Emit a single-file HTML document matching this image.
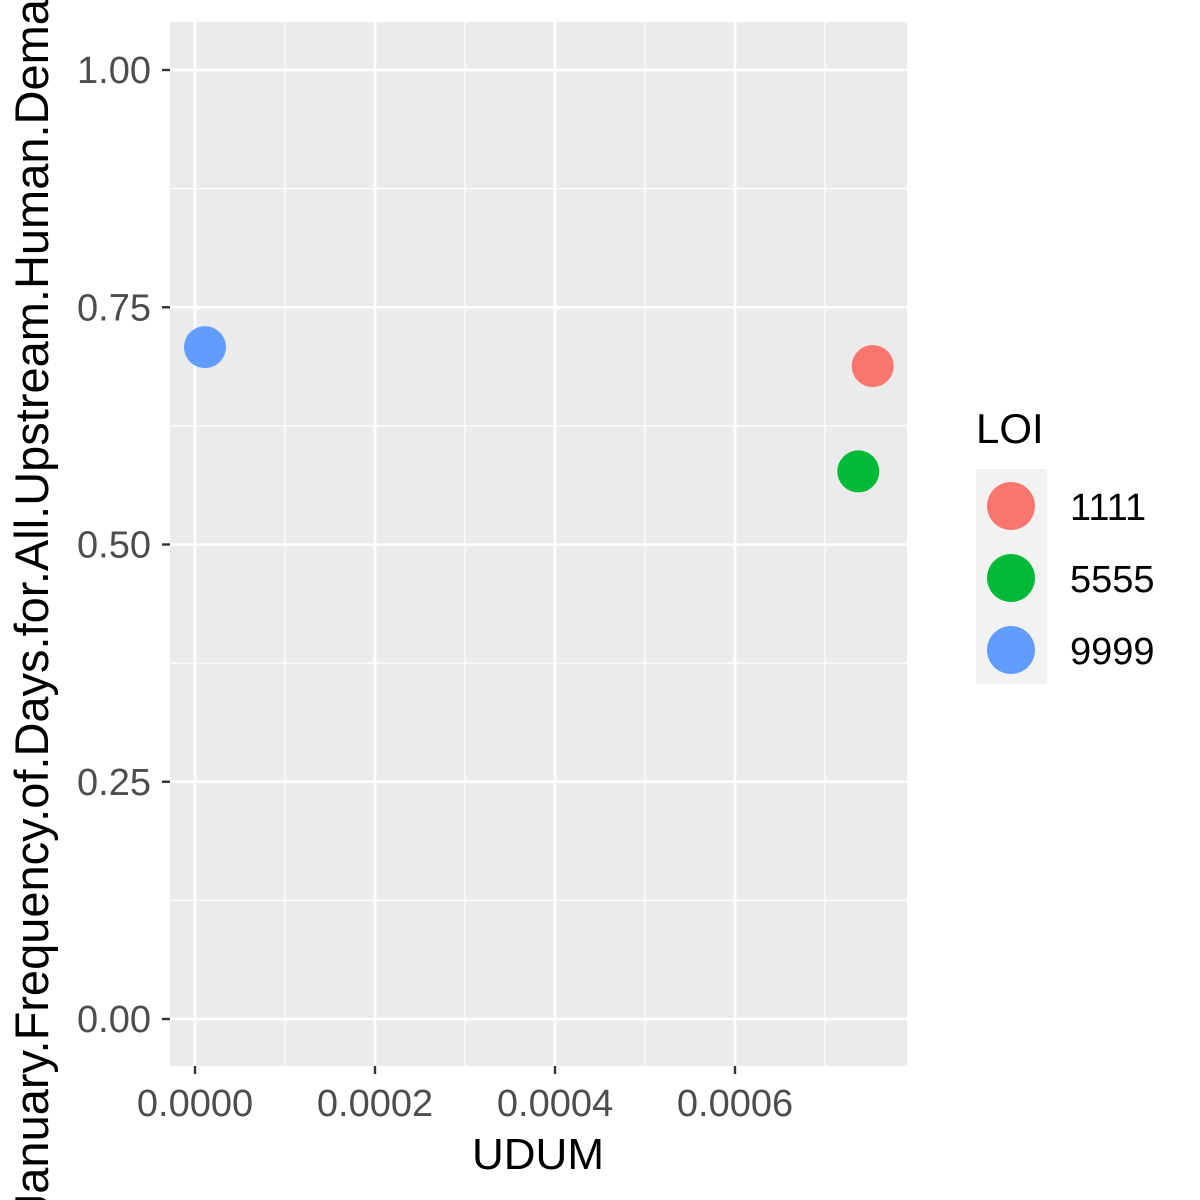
<!DOCTYPE html>
<html><head><meta charset="utf-8">
<style>
html,body{margin:0;padding:0;background:#fff;overflow:hidden;}
svg{display:block;font-family:"Liberation Sans",Arial,sans-serif;}
</style></head>
<body>
<svg id="chart" width="1200" height="1200" viewBox="0 0 1200 1200"></svg>
<script>
const categories = ["1111","5555","9999"];
const xValues = [0.000753, 0.000737, 0.0000111];
const yValues = [0.688, 0.577, 0.708];
const colors = ["#F8766D","#00BA38","#619CFF"];
const xTicks = [0, 0.0002, 0.0004, 0.0006];
const xTickLabels = ["0.0000","0.0002","0.0004","0.0006"];
const yTicks = [0, 0.25, 0.5, 0.75, 1.0];
const yTickLabels = ["0.00","0.25","0.50","0.75","1.00"];

const NS="http://www.w3.org/2000/svg";
const svg=document.getElementById('chart');
const P={l:170,r:907,t:22,b:1066};
function sx(v){return 195+v/0.0002*180;}
function sy(v){return 1019-v*949;}
function mk(tag,attrs,parent){const e=document.createElementNS(NS,tag);for(const k in attrs)e.setAttribute(k,attrs[k]);(parent||svg).appendChild(e);return e;}

const panel=mk('rect',{x:P.l,y:P.t,width:P.r-P.l,height:P.b-P.t,fill:'#EBEBEB'});



for(let i=0;i<xTicks.length;i++){
  const l=mk('line',{x1:sx(xTicks[i]+0.0001),x2:sx(xTicks[i]+0.0001),y1:P.t,y2:P.b,stroke:'#fff','stroke-width':1.2});
  
  
}
for(let i=0;i<yTicks.length-1;i++){
  const l=mk('line',{x1:P.l,x2:P.r,y1:sy(yTicks[i]+0.125),y2:sy(yTicks[i]+0.125),stroke:'#fff','stroke-width':1.2});
  
  
}
xTicks.forEach((v,i)=>{
  const x=sx(v);
  const g=mk('line',{x1:x,x2:x,y1:P.t,y2:P.b,stroke:'#fff','stroke-width':2.6});
  
  
  const t=mk('line',{x1:x,x2:x,y1:P.b,y2:P.b+8,stroke:'#333','stroke-width':2.4});
  
  
  const tx=mk('text',{x:x,y:1116,'text-anchor':'middle','font-size':38,fill:'#4D4D4D'});
  tx.textContent=xTickLabels[i];
  
  
});
yTicks.forEach((v,i)=>{
  const y=sy(v);
  const g=mk('line',{x1:P.l,x2:P.r,y1:y,y2:y,stroke:'#fff','stroke-width':2.6});
  
  
  const t=mk('line',{x1:P.l-8,x2:P.l,y1:y,y2:y,stroke:'#333','stroke-width':2.4});
  
  
  const tx=mk('text',{x:151,y:y+13,'text-anchor':'end','font-size':38,fill:'#4D4D4D'});
  tx.textContent=yTickLabels[i];
  
  
});
categories.forEach((c,i)=>{
  const p=mk('circle',{cx:sx(xValues[i]),cy:sy(yValues[i]),r:21,fill:colors[i]});
  
  
});
const xt=mk('text',{x:538,y:1169,'text-anchor':'middle','font-size':44,fill:'#000'});
xt.textContent='UDUM';


const yt=mk('text',{x:0,y:0,'text-anchor':'middle','font-size':47,fill:'#000',transform:'translate(48,582) rotate(-90)'});
yt.textContent='January.Frequency.of.Days.for.All.Upstream.Human.Demand';


const lt=mk('text',{x:976,y:443,'font-size':42,fill:'#000'});
lt.textContent='LOI';


const lb=mk('rect',{x:976,y:469,width:71,height:215,fill:'#F2F2F2'});


categories.forEach((c,i)=>{
  const y=506+i*72;
  const k=mk('circle',{cx:1011,cy:y,r:24,fill:colors[i]});
  
  
  const t=mk('text',{x:1070,y:y+14,'font-size':38,fill:'#000'});
  t.textContent=c;
  
  
});
</script>
</body></html>
